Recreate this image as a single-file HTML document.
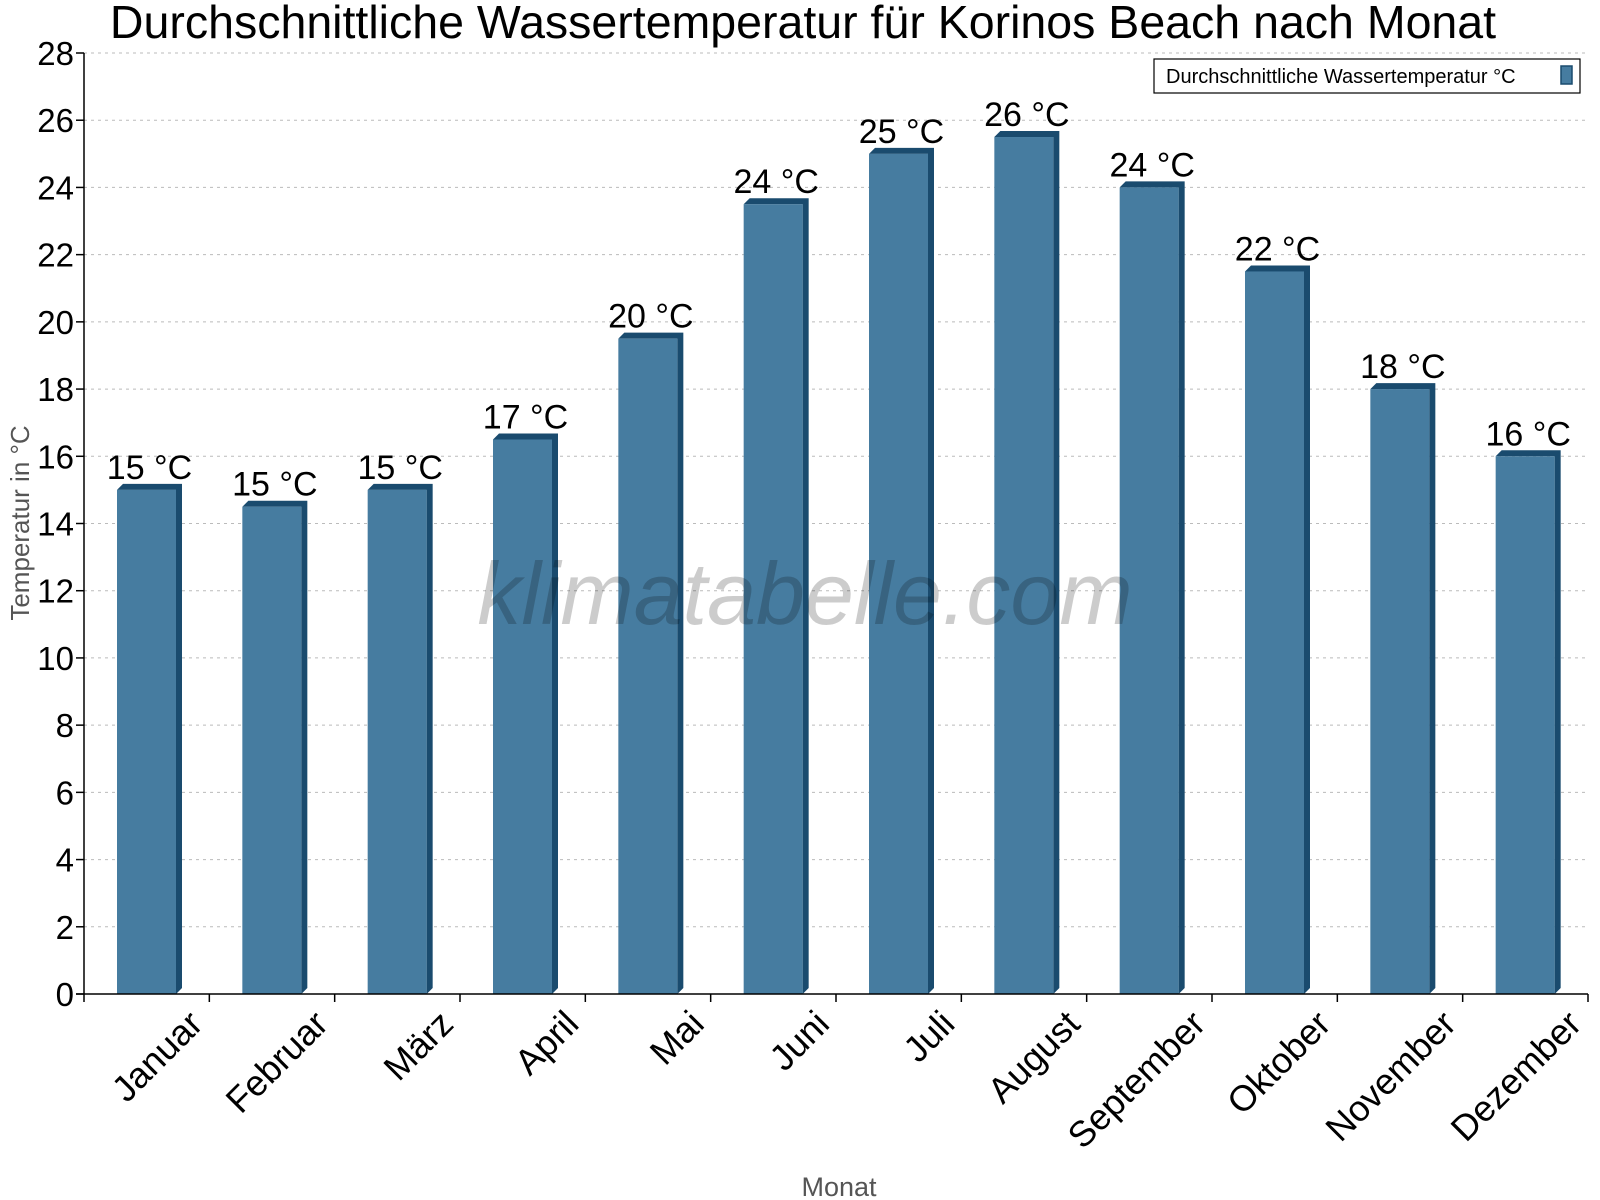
<!DOCTYPE html>
<html><head><meta charset="utf-8"><style>
body{margin:0;background:#fff}
svg{display:block;font-family:"Liberation Sans",sans-serif}
</style></head><body>
<svg id="chart" width="1600" height="1200" viewBox="0 0 1600 1200">
<text x="803" y="38" font-size="46.5" text-anchor="middle" fill="#000">Durchschnittliche Wassertemperatur für Korinos Beach nach Monat</text>
<g id="grid"></g>
<g id="bars"></g>
<text x="805" y="624" font-size="88" font-style="italic" text-anchor="middle" fill="#000" fill-opacity="0.2">klimatabelle.com</text>
<g id="axes"></g>
<text transform="translate(29,523) rotate(-90)" font-size="26" text-anchor="middle" fill="#555">Temperatur in °C</text>
<text x="839" y="1196" font-size="27" text-anchor="middle" fill="#555">Monat</text>
<g>
<rect x="1154" y="59" width="426" height="34" fill="#fff" stroke="#000" stroke-width="1.2"/>
<text x="1166" y="83" font-size="20" fill="#000">Durchschnittliche Wassertemperatur °C</text>
<rect x="1561" y="66" width="11" height="18" fill="#467ca0" stroke="#1a4b6e" stroke-width="1.5"/>
</g>
</svg>
<script>
const categories=["Januar","Februar","März","April","Mai","Juni","Juli","August","September","Oktober","November","Dezember"];
const values=[15,14.5,15,16.5,19.5,23.5,25,25.5,24,21.5,18,16];
const valueLabels=["15 °C","15 °C","15 °C","17 °C","20 °C","24 °C","25 °C","26 °C","24 °C","22 °C","18 °C","16 °C"];
const yTicks=[0,2,4,6,8,10,12,14,16,18,20,22,24,26,28];
const NS="http://www.w3.org/2000/svg";
const X0=84,X1=1588,Y0=994,Y1=53,YMAX=28;
const cw=(X1-X0)/categories.length;
const y=v=>Y0-(v/YMAX)*(Y0-Y1);
const xc=i=>X0+cw*i;
function mk(tag,attrs,parent){const e=document.createElementNS(NS,tag);for(const k in attrs)e.setAttribute(k,attrs[k]);parent.appendChild(e);return e;}
const grid=document.getElementById('grid'),bars=document.getElementById('bars'),axes=document.getElementById('axes');
yTicks.forEach(t=>{
 if(t>0){const g=mk('line',{x1:X0,x2:X1,y1:y(t),y2:y(t),stroke:'#bbb','stroke-dasharray':'3,4','stroke-width':1},grid);
 
 }
 const tk=mk('line',{x1:X0-8,x2:X0,y1:y(t),y2:y(t),stroke:'#000','stroke-width':1.5},axes);
 
 
 const tl=mk('text',{x:X0-10,y:y(t)+12,'font-size':33,'text-anchor':'end',fill:'#000'},axes);
 tl.textContent=t;
 
 
});
const d=6,bw=59,off=33;
values.forEach((v,i)=>{
 const bx=xc(i)+off,by=y(v);
 const g=mk('g',{},bars);
 
 
 mk('polygon',{points:`${bx},${by} ${bx+d},${by-d} ${bx+bw+d},${by-d} ${bx+bw+d},${Y0-d} ${bx+bw},${Y0} ${bx+bw},${by}`,fill:'#1a4b6e'},g);
 mk('rect',{x:bx,y:by,width:bw,height:Y0-by,fill:'#467ca0'},g);
 const lab=mk('text',{x:bx+(bw+d)/2,y:by-11,'font-size':34,'text-anchor':'middle',fill:'#000'},bars);
 lab.textContent=valueLabels[i];
 
 
 const cx=xc(i)+cw/2;
 const xl=mk('text',{transform:`translate(${cx+58},${Y0+32}) rotate(-45)`,'font-size':36,'text-anchor':'end',fill:'#000'},axes);
 xl.textContent=categories[i];
 
 
});
for(let i=0;i<=categories.length;i++){
 const t=mk('line',{x1:xc(i),x2:xc(i),y1:Y0,y2:Y0+8,stroke:'#000','stroke-width':1.5},axes);
 
 
}
const ya=mk('line',{x1:X0,x2:X0,y1:Y1,y2:Y0,stroke:'#000','stroke-width':1.5},axes);


const xa=mk('line',{x1:X0-8,x2:X1,y1:Y0,y2:Y0,stroke:'#000','stroke-width':1.5},axes);


</script>
</body></html>
